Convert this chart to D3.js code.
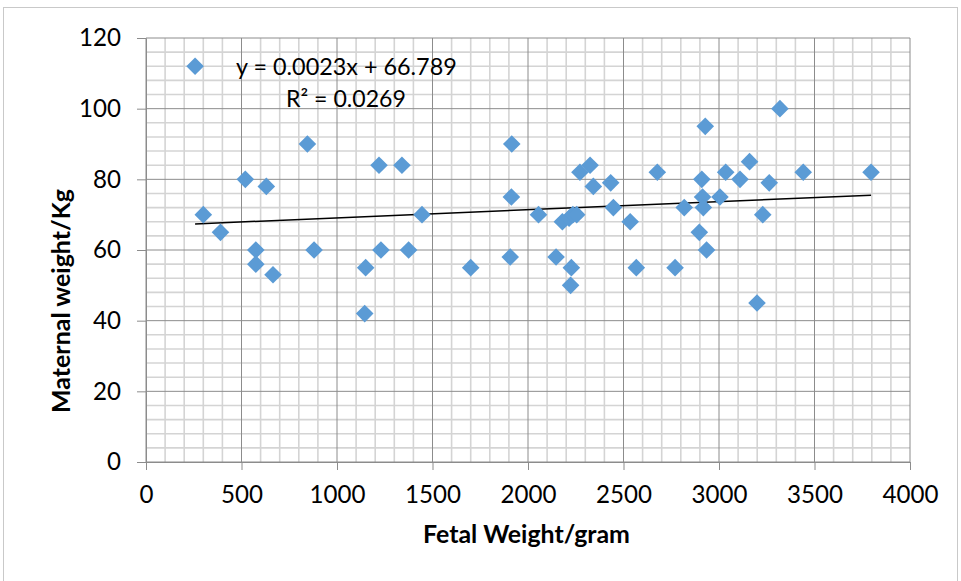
<!DOCTYPE html>
<html>
<head>
<meta charset="utf-8">
<script src="https://cdn.jsdelivr.net/npm/d3@7"></script>
<style>
  html, body { margin: 0; padding: 0; background: #fff; }
  svg { display: block; }
  text { font-family: Lato, "Open Sans", sans-serif; fill: #000; }
</style>
</head>
<body>
<svg id="chart" width="961" height="581"></svg>
<script>
// ---- Data ----
const fetalWeight = [257, 300, 390, 520, 575, 575, 630, 665, 845, 880,
  1145, 1150, 1220, 1230, 1340, 1375, 1445, 1700, 1907, 1913,
  1915, 2055, 2147, 2180, 2215, 2223, 2227, 2235, 2255, 2272,
  2325, 2342, 2433, 2447, 2535, 2567, 2677, 2770, 2818, 2897,
  2910, 2914, 2918, 2928, 2935, 3005, 3035, 3110, 3160, 3199,
  3229, 3263, 3319, 3441, 3796];
const maternalWeight = [112, 70, 65, 80, 60, 56, 78, 53, 90, 60,
  42, 55, 84, 60, 84, 60, 70, 55, 58, 75,
  90, 70, 58, 68, 69, 50, 55, 70, 70, 82,
  84, 78, 79, 72, 68, 55, 82, 55, 72, 65,
  80, 75, 72, 95, 60, 75, 82, 80, 85, 45,
  70, 79, 100, 82, 82];
const xTicks = [0, 500, 1000, 1500, 2000, 2500, 3000, 3500, 4000];
const yTicks = [0, 20, 40, 60, 80, 100, 120];
const trendSlope = 0.0023;
const trendIntercept = 66.789;
const equationLabel = "y = 0.0023x + 66.789";
const r2Label = "R² = 0.0269";
const xTitle = "Fetal Weight/gram";
const yTitle = "Maternal weight/Kg";

(function () {
// ---- Layout ----
const svg = d3.select("#chart");
const pLeft = 146, pRight = 910, pTop = 38, pBottom = 462;
const x = d3.scaleLinear().domain([0, 4000]).range([pLeft, pRight]);
const y = d3.scaleLinear().domain([0, 120]).range([pBottom, pTop]);

function fitWidth(sel, target, start) {
  sel.style("font-size", start + "px");
  const w = sel.node().getComputedTextLength();
  const size = start * target / w;
  sel.style("font-size", size + "px");
  return size;
}

// chart border
svg.append("rect")
  .attr("x", 3.5).attr("y", 7.5).attr("width", 954).attr("height", 620)
  .attr("fill", "none").attr("stroke", "#c9c9c9").attr("stroke-width", 1);

// minor gridlines
const minorX = d3.range(0, 4001, 100).filter(v => v % 500 !== 0);
const minorY = d3.range(0, 121, 4).filter(v => v % 20 !== 0);
const grid = svg.append("g");
grid.selectAll(".mx").data(minorX).join("line")
  .attr("x1", d => x(d)).attr("x2", d => x(d))
  .attr("y1", pTop).attr("y2", pBottom)
  .attr("stroke", "#d4d4d4").attr("stroke-width", 1.6);
grid.selectAll(".my").data(minorY).join("line")
  .attr("x1", pLeft).attr("x2", pRight)
  .attr("y1", d => y(d)).attr("y2", d => y(d))
  .attr("stroke", "#d4d4d4").attr("stroke-width", 1.6);
// major gridlines
grid.selectAll(".Mx").data(xTicks).join("line")
  .attr("x1", d => x(d)).attr("x2", d => x(d))
  .attr("y1", pTop).attr("y2", pBottom)
  .attr("stroke", "#8c8c8c").attr("stroke-width", 1);
grid.selectAll(".My").data(yTicks).join("line")
  .attr("x1", pLeft).attr("x2", pRight)
  .attr("y1", d => y(d)).attr("y2", d => y(d))
  .attr("stroke", "#8c8c8c").attr("stroke-width", 1);

// axes
const fmt = d3.format("d");
const xAxis = svg.append("g").attr("transform", `translate(0,${pBottom})`)
  .call(d3.axisBottom(x).tickValues(xTicks).tickFormat(fmt).tickSize(8).tickPadding(16).tickSizeOuter(0));
const yAxis = svg.append("g").attr("transform", `translate(${pLeft},0)`)
  .call(d3.axisLeft(y).tickValues(yTicks).tickFormat(fmt).tickSize(9).tickPadding(16).tickSizeOuter(0));
[xAxis, yAxis].forEach(a => {
  a.attr("font-family", null).attr("font-size", null);
  a.select(".domain").attr("stroke", "#8c8c8c");
  a.selectAll(".tick line").attr("stroke", "#8c8c8c");
  a.selectAll("text").style("fill", "#000");
});
const t120 = yAxis.selectAll(".tick text").filter(d => d === 120);
const tickSize = fitWidth(t120, 42, 23);
xAxis.selectAll(".tick text").style("font-size", tickSize + "px");
yAxis.selectAll(".tick text").style("font-size", tickSize + "px");

// axis titles
const xt = svg.append("text").attr("x", 526.5).attr("y", 543)
  .attr("text-anchor", "middle").attr("font-weight", "bold").text(xTitle);
fitWidth(xt, 207, 22);
const yt = svg.append("text")
  .attr("transform", `translate(70,301) rotate(-90)`)
  .attr("text-anchor", "middle").attr("font-weight", "bold").text(yTitle);
fitWidth(yt, 224, 22);

// trendline
const xMin = d3.min(fetalWeight), xMax = d3.max(fetalWeight);
svg.append("line")
  .attr("x1", x(xMin)).attr("y1", y(trendSlope * xMin + trendIntercept))
  .attr("x2", x(xMax)).attr("y2", y(trendSlope * xMax + trendIntercept))
  .attr("stroke", "#000").attr("stroke-width", 1.5);

// points
const diamond = d3.symbol().type(d3.symbolSquare).size(2 * 8.8 * 8.8);
svg.append("g").selectAll("path")
  .data(fetalWeight.map((v, i) => [v, maternalWeight[i]]))
  .join("path")
  .attr("d", diamond)
  .attr("transform", d => `translate(${x(d[0])},${y(d[1])}) rotate(45)`)
  .attr("fill", "#5b9bd5");

// trendline label
const eq = svg.append("text").attr("x", 236).attr("y", 75).text(equationLabel);
fitWidth(eq, 221, 24);
const r2 = svg.append("text").attr("x", 286).attr("y", 107).text(r2Label);
fitWidth(r2, 120, 24);
})();
</script>
</body>
</html>
